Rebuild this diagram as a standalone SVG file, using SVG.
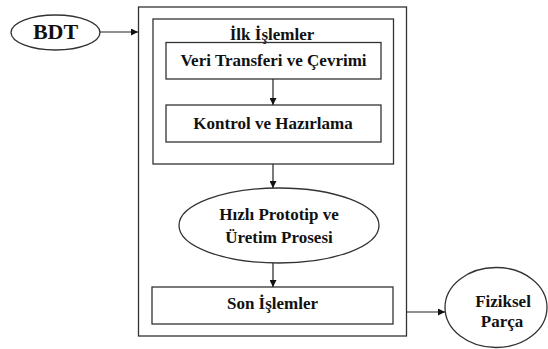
<svg xmlns="http://www.w3.org/2000/svg" width="548" height="349" viewBox="0 0 548 349">
<style>
.s{fill:none;stroke:#333;stroke-width:1.3}
.c{fill:none;stroke:#222;stroke-width:1.2}
.t{font-family:"Liberation Serif","Times New Roman",serif;font-weight:bold;font-size:17px;fill:#111;text-anchor:middle}
</style>
<defs>
<marker id="a" viewBox="0 0 10 10" refX="10" refY="5" markerWidth="7" markerHeight="7" markerUnits="userSpaceOnUse" orient="auto">
<path d="M0,0 L10,5 L0,10 z" fill="#111"/>
</marker>
</defs>
<rect width="548" height="349" fill="#fff"/>
<g id="bdt"><ellipse class="s" cx="55.5" cy="32.5" rx="44.5" ry="17.5"/><text class="t" x="55.5" y="39" style="font-size:22px">BDT</text></g>
<g id="outer"><rect class="s" x="138.5" y="7" width="268" height="329"/></g>
<g id="ilk"><rect class="s" x="153" y="19" width="240.5" height="145"/><text class="t" x="272" y="40">İlk İşlemler</text></g>
<g id="veri"><rect class="s" x="166" y="42.5" width="215" height="36.5"/><text class="t" x="273.5" y="66">Veri Transferi ve Çevrimi</text></g>
<g id="kontrol"><rect class="s" x="166" y="105" width="215" height="37"/><text class="t" x="273" y="129">Kontrol ve Hazırlama</text></g>
<g id="hizli"><ellipse class="s" cx="279" cy="225.5" rx="100" ry="37.5"/><text class="t" x="279" y="220">Hızlı Prototip ve</text><text class="t" x="279" y="243">Üretim Prosesi</text></g>
<g id="son"><rect class="s" x="152" y="287" width="241" height="37"/><text class="t" x="272.5" y="309">Son İşlemler</text></g>
<g id="fiziksel"><ellipse class="s" cx="496" cy="307.5" rx="51" ry="40"/><text class="t" x="503" y="307">Fiziksel</text><text class="t" x="502" y="327">Parça</text></g>
<g id="connectors">
<line class="c" x1="100" y1="32" x2="138" y2="32" marker-end="url(#a)"/>
<line class="c" x1="273" y1="79" x2="273" y2="105" marker-end="url(#a)"/>
<line class="c" x1="273" y1="164" x2="273" y2="188" marker-end="url(#a)"/>
<line class="c" x1="273" y1="263" x2="273" y2="287" marker-end="url(#a)"/>
<line class="c" x1="406.5" y1="312" x2="445" y2="312" marker-end="url(#a)"/>
</g>
</svg>
